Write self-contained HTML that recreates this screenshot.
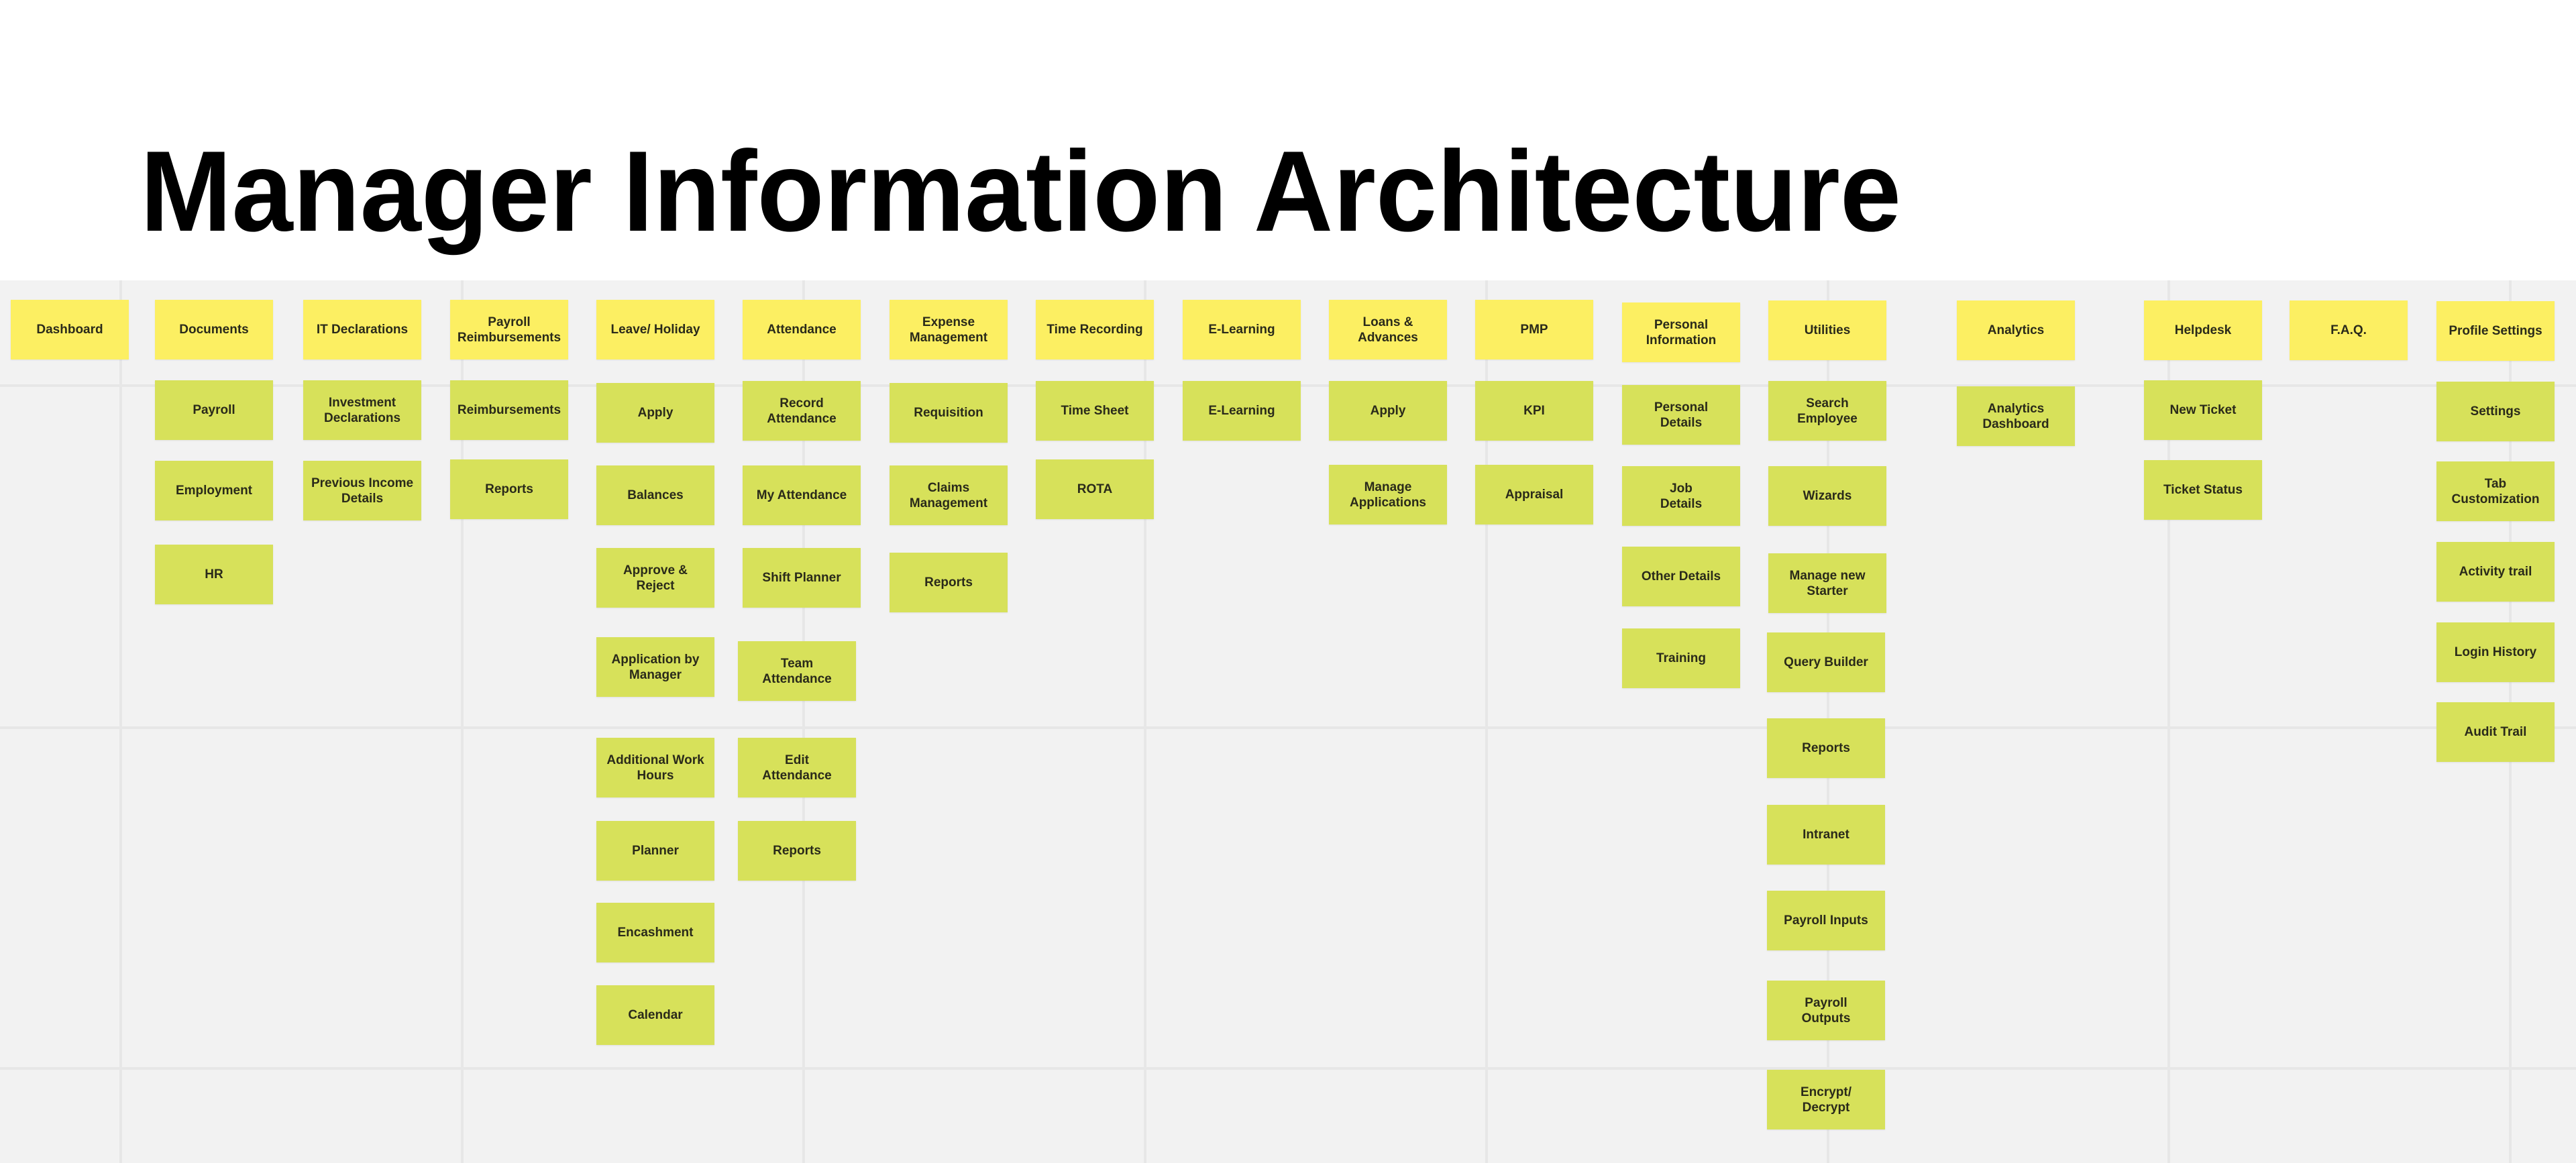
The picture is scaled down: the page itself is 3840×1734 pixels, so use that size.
<!DOCTYPE html>
<html><head><meta charset="utf-8"><style>
body{margin:0;width:3840px;height:1734px;overflow:hidden;background:#fff;position:relative;font-family:"Liberation Sans",sans-serif}
#bg{position:absolute;left:0;top:418px;width:3840px;height:1316px;background:#f2f2f2}
.v{position:absolute;top:418px;width:4px;height:1316px;background:#e7e7e7}
.h{position:absolute;left:0;height:4px;width:3840px;background:#e7e7e7}
.b{position:absolute;width:176px;height:89px;display:flex;align-items:center;justify-content:center;text-align:center;font-weight:bold;font-size:19px;line-height:23px;color:#2a2a1a;background:#d7e15a;box-shadow:0 1px 2px rgba(0,0,0,.08)}
.y{background:#fcef62}
</style></head><body>
<div id="bg"></div>
<div class="v" style="left:178px"></div><div class="v" style="left:687px"></div><div class="v" style="left:1196px"></div><div class="v" style="left:1705px"></div><div class="v" style="left:2214px"></div><div class="v" style="left:2723px"></div><div class="v" style="left:3231px"></div><div class="v" style="left:3740px"></div>
<div class="h" style="top:573px"></div><div class="h" style="top:1083px"></div><div class="h" style="top:1591px"></div>
<svg style="position:absolute;left:0;top:0" width="3840" height="418"><text x="209" y="344" font-family="Liberation Sans" font-weight="bold" font-size="171" textLength="2625" lengthAdjust="spacingAndGlyphs" fill="#000">Manager Information Architecture</text></svg>

<div class="b y" style="left:16px;top:447px">Dashboard</div>

<div class="b y" style="left:231px;top:447px">Documents</div>
<div class="b" style="left:231px;top:567px">Payroll</div>
<div class="b" style="left:231px;top:687px">Employment</div>
<div class="b" style="left:231px;top:812px">HR</div>

<div class="b y" style="left:452px;top:447px">IT Declarations</div>
<div class="b" style="left:452px;top:567px">Investment<br>Declarations</div>
<div class="b" style="left:452px;top:687px">Previous Income<br>Details</div>

<div class="b y" style="left:671px;top:447px">Payroll<br>Reimbursements</div>
<div class="b" style="left:671px;top:567px">Reimbursements</div>
<div class="b" style="left:671px;top:685px">Reports</div>

<div class="b y" style="left:889px;top:447px">Leave/ Holiday</div>
<div class="b" style="left:889px;top:571px">Apply</div>
<div class="b" style="left:889px;top:694px">Balances</div>
<div class="b" style="left:889px;top:817px">Approve &amp;<br>Reject</div>
<div class="b" style="left:889px;top:950px">Application by<br>Manager</div>
<div class="b" style="left:889px;top:1100px">Additional Work<br>Hours</div>
<div class="b" style="left:889px;top:1224px">Planner</div>
<div class="b" style="left:889px;top:1346px">Encashment</div>
<div class="b" style="left:889px;top:1469px">Calendar</div>

<div class="b y" style="left:1107px;top:447px">Attendance</div>
<div class="b" style="left:1107px;top:568px">Record<br>Attendance</div>
<div class="b" style="left:1107px;top:694px">My Attendance</div>
<div class="b" style="left:1107px;top:817px">Shift Planner</div>
<div class="b" style="left:1100px;top:956px">Team<br>Attendance</div>
<div class="b" style="left:1100px;top:1100px">Edit<br>Attendance</div>
<div class="b" style="left:1100px;top:1224px">Reports</div>

<div class="b y" style="left:1326px;top:447px">Expense<br>Management</div>
<div class="b" style="left:1326px;top:571px">Requisition</div>
<div class="b" style="left:1326px;top:694px">Claims<br>Management</div>
<div class="b" style="left:1326px;top:824px">Reports</div>

<div class="b y" style="left:1544px;top:447px">Time Recording</div>
<div class="b" style="left:1544px;top:568px">Time Sheet</div>
<div class="b" style="left:1544px;top:685px">ROTA</div>

<div class="b y" style="left:1763px;top:447px">E-Learning</div>
<div class="b" style="left:1763px;top:568px">E-Learning</div>

<div class="b y" style="left:1981px;top:447px">Loans &amp;<br>Advances</div>
<div class="b" style="left:1981px;top:568px">Apply</div>
<div class="b" style="left:1981px;top:693px">Manage<br>Applications</div>

<div class="b y" style="left:2199px;top:447px">PMP</div>
<div class="b" style="left:2199px;top:568px">KPI</div>
<div class="b" style="left:2199px;top:693px">Appraisal</div>

<div class="b y" style="left:2418px;top:451px">Personal<br>Information</div>
<div class="b" style="left:2418px;top:574px">Personal<br>Details</div>
<div class="b" style="left:2418px;top:695px">Job<br>Details</div>
<div class="b" style="left:2418px;top:815px">Other Details</div>
<div class="b" style="left:2418px;top:937px">Training</div>

<div class="b y" style="left:2636px;top:448px">Utilities</div>
<div class="b" style="left:2636px;top:568px">Search<br>Employee</div>
<div class="b" style="left:2636px;top:695px">Wizards</div>
<div class="b" style="left:2636px;top:825px">Manage new<br>Starter</div>
<div class="b" style="left:2634px;top:943px">Query Builder</div>
<div class="b" style="left:2634px;top:1071px">Reports</div>
<div class="b" style="left:2634px;top:1200px">Intranet</div>
<div class="b" style="left:2634px;top:1328px">Payroll Inputs</div>
<div class="b" style="left:2634px;top:1462px">Payroll<br>Outputs</div>
<div class="b" style="left:2634px;top:1595px">Encrypt/<br>Decrypt</div>

<div class="b y" style="left:2917px;top:448px">Analytics</div>
<div class="b" style="left:2917px;top:576px">Analytics<br>Dashboard</div>

<div class="b y" style="left:3196px;top:448px">Helpdesk</div>
<div class="b" style="left:3196px;top:567px">New Ticket</div>
<div class="b" style="left:3196px;top:686px">Ticket Status</div>

<div class="b y" style="left:3413px;top:448px">F.A.Q.</div>

<div class="b y" style="left:3632px;top:449px">Profile Settings</div>
<div class="b" style="left:3632px;top:569px">Settings</div>
<div class="b" style="left:3632px;top:688px">Tab<br>Customization</div>
<div class="b" style="left:3632px;top:808px">Activity trail</div>
<div class="b" style="left:3632px;top:928px">Login History</div>
<div class="b" style="left:3632px;top:1047px">Audit Trail</div>
</body></html>
